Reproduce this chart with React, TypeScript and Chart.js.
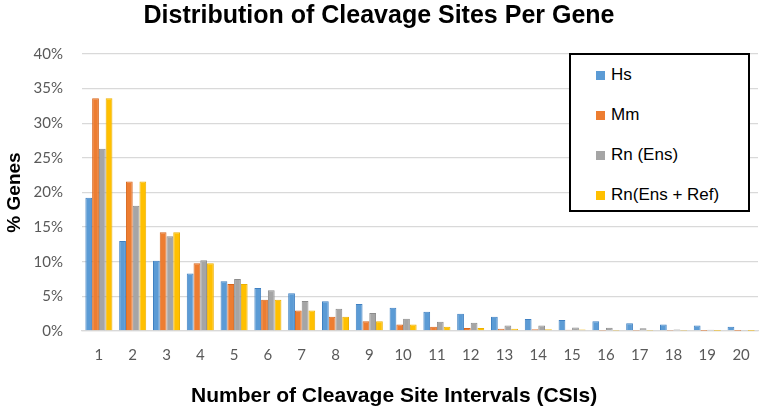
import { useEffect, useRef } from 'react'
import { Chart, registerables } from 'chart.js'

Chart.register(...registerables)

const categories = ['1', '2', '3', '4', '5', '6', '7', '8', '9', '10', '11', '12', '13', '14', '15', '16', '17', '18', '19', '20']

const hsValues = [19.25, 13.0, 10.15, 8.3, 7.2, 6.2, 5.45, 4.3, 3.9, 3.35, 2.77, 2.48, 2.05, 1.72, 1.58, 1.4, 1.12, 0.93, 0.81, 0.63]
const mmValues = [33.6, 21.6, 14.25, 9.8, 6.8, 4.5, 2.95, 2.07, 1.4, 0.95, 0.62, 0.43, 0.31, 0.27, 0.18, 0.05, 0.03, 0.02, 0.01, 0.01]
const rnEnsValues = [26.3, 18.1, 13.7, 10.2, 7.5, 5.9, 4.35, 3.2, 2.6, 1.77, 1.34, 1.2, 0.8, 0.78, 0.5, 0.46, 0.38, 0.22, 0.17, 0.08]
const rnRefValues = [33.6, 21.6, 14.25, 9.8, 6.8, 4.5, 2.95, 2.07, 1.4, 0.95, 0.62, 0.43, 0.31, 0.27, 0.2, 0.05, 0.03, 0.02, 0.01, 0.01]

const series = [
  { label: 'Hs', values: hsValues, color: '#5B9BD5', border: '#3F80C2' },
  { label: 'Mm', values: mmValues, color: '#ED7D31', border: '#D8661B' },
  { label: 'Rn (Ens)', values: rnEnsValues, color: '#A5A5A5', border: '#8C8C8C' },
  { label: 'Rn(Ens + Ref)', values: rnRefValues, color: '#FFC000', border: '#EDB000' },
]

const yTicks = [0, 5, 10, 15, 20, 25, 30, 35, 40]

const boldFont = '"Liberation Sans", Arial, sans-serif'

export default function App() {
  const canvasRef = useRef<HTMLCanvasElement>(null)
  const chartRef = useRef<Chart | null>(null)

  useEffect(() => {
    document.body.style.margin = '0'
    const canvas = canvasRef.current
    if (!canvas) return
    const ctx = canvas.getContext('2d')
    if (!ctx) return

    chartRef.current = new Chart(ctx, {
      type: 'bar',
      data: {
        labels: categories,
        datasets: series.map(s => ({
          label: s.label,
          data: s.values,
          backgroundColor: s.color,
          borderColor: s.border,
          borderWidth: 1,
          categoryPercentage: 0.8,
          barPercentage: 1,
        })),
      },
      options: {
        animation: false,
        responsive: true,
        maintainAspectRatio: false,
        layout: { padding: { left: 0, right: 7, top: 0, bottom: 0 } },
        plugins: {
          legend: { display: false },
          tooltip: { enabled: false },
          title: {
            display: true,
            text: 'Distribution of Cleavage Sites Per Gene',
            color: '#000',
            font: { family: boldFont, size: 25, weight: 'bold', lineHeight: 1.2 },
            padding: { top: 1, bottom: 23 },
          },
        },
        scales: {
          x: {
            grid: { display: false, drawTicks: false },
            border: { display: true, color: '#D9D9D9', width: 1.3 },
            ticks: {
              color: '#595959',
              padding: 15,
              font: { family: 'Lato, "Open Sans", sans-serif', size: 15 },
            },
            afterFit: (scale: any) => { scale.height = 82 },
          },
          y: {
            min: 0,
            max: 40,
            afterBuildTicks: (scale: any) => { scale.ticks = yTicks.map(v => ({ value: v })) },
            grid: { color: '#D9D9D9', lineWidth: 1.3, drawTicks: false },
            border: { display: false },
            ticks: {
              color: '#595959',
              padding: 19,
              font: { family: 'Lato, "Open Sans", sans-serif', size: 15 },
              callback: (v: any) => `${v}%`,
            },
            title: {
              display: true,
              text: '% Genes',
              color: '#000',
              font: { family: boldFont, size: 19, weight: 'bold', lineHeight: 1.2 },
              padding: { top: 3, bottom: 0 },
            },
            afterFit: (scale: any) => { scale.width = 82 },
          },
        },
      },
    })

    return () => {
      if (chartRef.current) {
        chartRef.current.destroy()
        chartRef.current = null
      }
    }
  }, [])

  return (
    <div style={{ position: 'relative', width: 765, height: 413, background: '#fff' }}>
      <canvas ref={canvasRef} />
      {/* x axis title sits left of the plot centre in the original */}
      <div
        style={{
          position: 'absolute',
          left: 191,
          width: 400,
          top: 382,
          height: 26,
          lineHeight: '26px',
          textAlign: 'center',
          whiteSpace: 'nowrap',
          fontFamily: boldFont,
          fontWeight: 'bold',
          fontSize: 21,
          color: '#000',
        }}
      >
        Number of Cleavage Site Intervals (CSIs)
      </div>
      <div
        style={{
          position: 'absolute',
          left: 569,
          top: 53,
          width: 177,
          height: 155,
          border: '2px solid #000',
          background: '#fff',
          fontFamily: boldFont,
          fontSize: 17,
          color: '#000',
        }}
      >
        {series.map((s, i) => (
          <div
            key={s.label}
            style={{
              position: 'absolute',
              left: 25,
              top: 8 + i * 40,
              height: 24,
              display: 'flex',
              alignItems: 'center',
              whiteSpace: 'nowrap',
            }}
          >
            <span style={{ display: 'inline-block', width: 9, height: 9, background: s.color, marginRight: 6 }} />
            {s.label}
          </div>
        ))}
      </div>
    </div>
  )
}
